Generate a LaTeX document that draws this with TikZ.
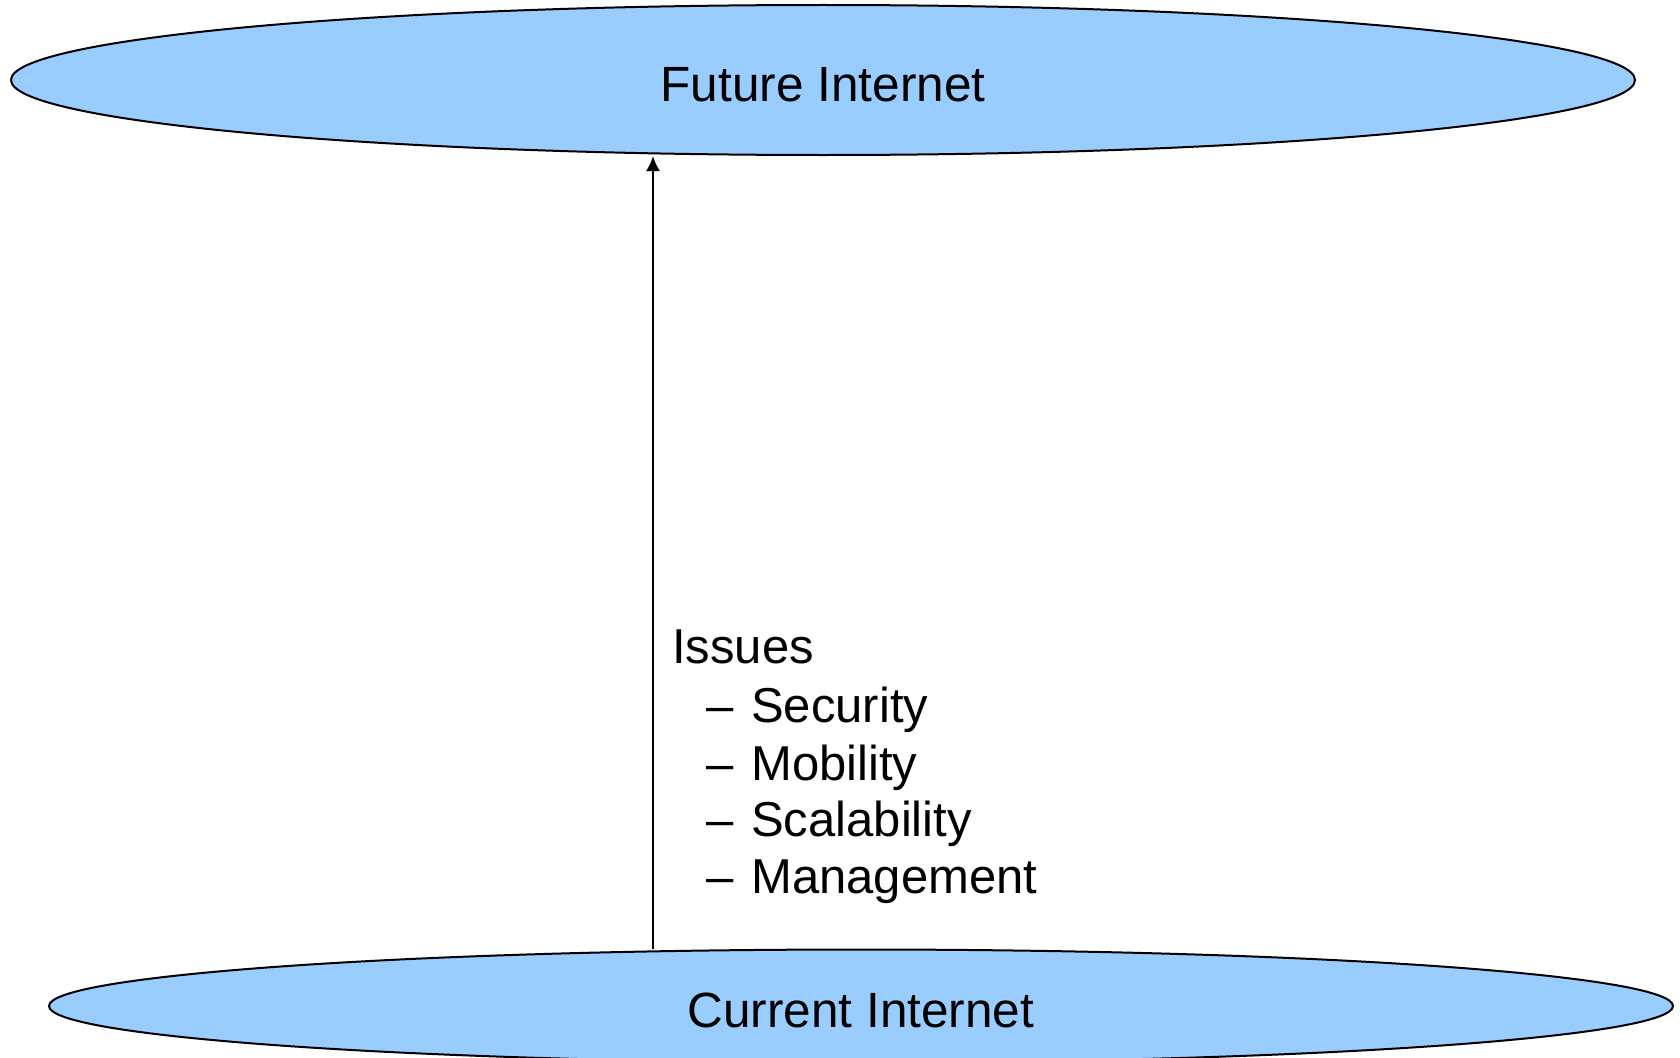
\documentclass[tikz,border=0pt]{standalone}
\usepackage{fontspec}
\setmainfont{Liberation Sans}
\usetikzlibrary{shapes.geometric,arrows.meta}
\definecolor{netblue}{HTML}{99CCFF}
\tikzset{
  netbox/.style={ellipse, draw=black, line width=2pt, fill=netblue, inner sep=0pt,
    text height=42pt, text depth=0pt, font=\fontsize{49.5}{57}\selectfont},
  txt/.style={inner sep=0pt, anchor=base west, font=\fontsize{49}{57}\selectfont},
  flow/.style={line width=2pt, -{Latex[length=15pt,width=14pt]}}
}
\begin{document}
\begin{tikzpicture}[x=1pt,y=-1pt]
\useasboundingbox (0,0) rectangle (1680,1057);
\node[netbox, minimum width=1624pt, minimum height=150pt] (fut) at (823,80) {Future Internet};
\node[netbox, minimum width=1624pt, minimum height=113pt] (cur) at (861,1006) {Current Internet};
\coordinate (ax) at (653,0);
\draw[flow] (cur.north -| ax) -- (fut.south -| ax);
\node[txt] (iss) at (672,663) {Issues};
\node[txt] (d1) at (706,722) {–};
\node[txt] (t1) at (751,722) {Security};
\node[txt] (d2) at (706,780) {–};
\node[txt] (t2) at (751,780) {Mobility};
\node[txt] (d3) at (706,836) {–};
\node[txt] (t3) at (751,836) {Scalability};
\node[txt] (d4) at (706,893) {–};
\node[txt] (t4) at (751,893) {Management};
\end{tikzpicture}
\end{document}
